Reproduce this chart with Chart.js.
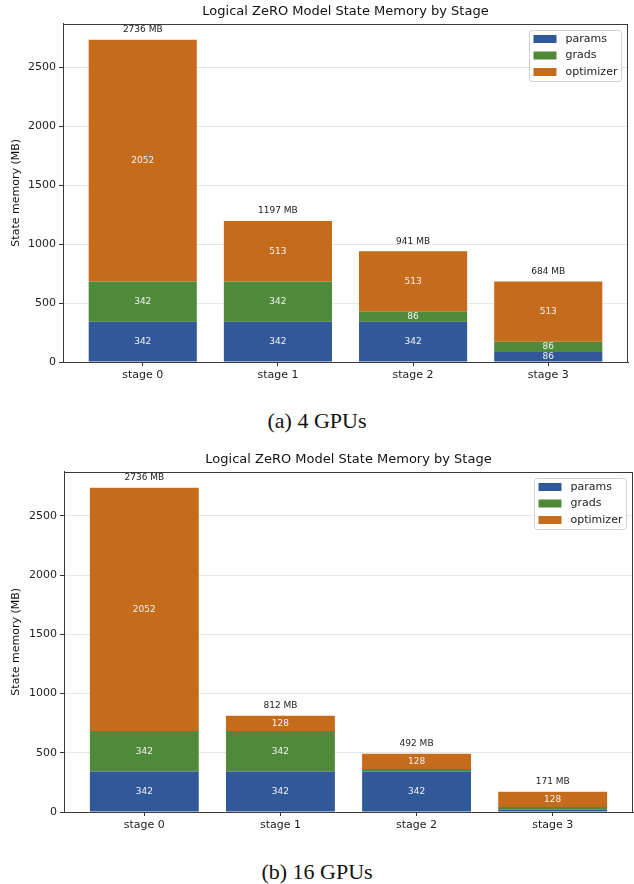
<!DOCTYPE html>
<html>
<head>
<meta charset="utf-8">
<script src="https://cdn.jsdelivr.net/npm/chart.js@4.4.0/dist/chart.umd.min.js"></script>
<style>
  body { margin: 0; background: #fff; width: 634px; height: 884px; position: relative; overflow: hidden; }
  .panel { position: absolute; left: 0; width: 634px; height: 396px; }
  .cap { position: absolute; left: 0; width: 634px; text-align: center;
         font-family: "Liberation Serif", "Times New Roman", serif; font-size: 22px; color: #111; line-height: 26px; }
</style>
</head>
<body>
<div class="panel" style="top:0"><canvas id="c4" width="634" height="396"></canvas></div>
<div class="cap" style="top:408px">(a) 4 GPUs</div>
<div class="panel" style="top:448px"><canvas id="c16" width="634" height="396"></canvas></div>
<div class="cap" style="top:859px">(b) 16 GPUs</div>
<script>
// Per-stage memory (MB) for each state component
const stages = ['stage 0', 'stage 1', 'stage 2', 'stage 3'];
const seriesNames = ['params', 'grads', 'optimizer'];

// 4 GPUs
const params4 = [342, 342, 342, 85.5];
const grads4 = [342, 342, 85.5, 85.5];
const optimizer4 = [2052, 513, 513, 513];

// 16 GPUs
const params16 = [342, 342, 342, 21.375];
const grads16 = [342, 342, 21.375, 21.375];
const optimizer16 = [2052, 128.25, 128.25, 128.25];

const yTicks = [0, 500, 1000, 1500, 2000, 2500];

const seriesColors = ['#31599a', '#4f8a3b', '#c56b1c'];
const FONT = '"DejaVu Sans", Verdana, sans-serif';

// Segment values and stacked totals drawn on top of the bars
const barLabels = {
  id: 'barLabels',
  afterDatasetsDraw(chart) {
    const ctx = chart.ctx;
    ctx.save();
    ctx.textAlign = 'center';
    ctx.textBaseline = 'middle';
    ctx.font = '9px ' + FONT;
    const n = chart.data.datasets.length;
    chart.data.datasets.forEach((ds, di) => {
      const meta = chart.getDatasetMeta(di);
      meta.data.forEach((bar, i) => {
        const v = ds.data[i].y;
        if (v >= 50) {
          ctx.fillStyle = '#f2f2f2';
          ctx.fillText(String(Math.round(v)), bar.x, (bar.y + bar.base) / 2);
        }
        if (di === n - 1) {
          const total = chart.data.datasets.reduce((s, d) => s + d.data[i].y, 0);
          ctx.fillStyle = '#222';
          ctx.fillText(Math.round(total) + ' MB', bar.x, bar.y - 10);
        }
      });
    });
    ctx.restore();
  }
};

// Axes frame on all four sides plus a boxed legend in the upper right
const frameAndLegend = {
  id: 'frameAndLegend',
  afterDraw(chart) {
    const ctx = chart.ctx;
    const a = chart.chartArea;
    ctx.save();
    ctx.strokeStyle = '#3a3a3a';
    ctx.lineWidth = 1;
    ctx.strokeRect(Math.round(a.left) + 0.5, Math.round(a.top) + 0.5,
                   Math.round(a.right - a.left) - 1, Math.round(a.bottom - a.top));

    const bw = 92, bh = 51;
    const bx = Math.round(a.right) - 7 - bw + 0.5;
    const by = Math.round(a.top) + 6 + 0.5;
    ctx.fillStyle = 'rgba(255,255,255,0.85)';
    ctx.strokeStyle = '#d0d0d0';
    ctx.beginPath();
    ctx.roundRect(bx, by, bw, bh, 3);
    ctx.fill();
    ctx.stroke();
    ctx.font = '11px ' + FONT;
    ctx.textBaseline = 'middle';
    ctx.textAlign = 'left';
    chart.data.datasets.forEach((ds, i) => {
      const cy = by + 8.5 + i * 16.5;
      ctx.fillStyle = ds.backgroundColor;
      ctx.fillRect(bx + 4, cy - 4, 23, 8);
      ctx.fillStyle = '#222';
      ctx.fillText(ds.label, bx + 36, cy);
    });
    ctx.restore();
  }
};

function makeChart(id, series, layoutOpts) {
  const n = stages.length;
  const totals = stages.map((_, i) => series.reduce((s, arr) => s + arr[i], 0));
  const yMax = Math.max(...totals) * 1.05;
  const span = (n - 1) + 0.8;
  const xMin = -0.4 - 0.05 * span;
  const xMax = (n - 1) + 0.4 + 0.05 * span;

  return new Chart(document.getElementById(id), {
    type: 'bar',
    data: {
      datasets: series.map((arr, si) => ({
        label: seriesNames[si],
        data: arr.map((v, i) => ({ x: i, y: v })),
        backgroundColor: seriesColors[si],
        borderWidth: 0,
        categoryPercentage: 1.0,
        barPercentage: 0.8
      }))
    },
    options: {
      responsive: false,
      animation: false,
      layout: { padding: { left: 0, right: layoutOpts.padRight, top: 0, bottom: 0 } },
      plugins: {
        legend: { display: false },
        tooltip: { enabled: false },
        title: {
          display: true,
          fullSize: false,
          text: 'Logical ZeRO Model State Memory by Stage',
          color: '#111',
          font: { family: FONT, size: 13, weight: 'normal' },
          padding: { top: 4, bottom: 4 }
        }
      },
      scales: {
        x: {
          type: 'linear',
          stacked: true,
          offset: false,
          min: xMin,
          max: xMax,
          afterBuildTicks: (scale) => { scale.ticks = stages.map((_, i) => ({ value: i })); },
          afterFit: (scale) => { scale.height = layoutOpts.xAxisHeight; },
          grid: { offset: false, drawOnChartArea: false, tickColor: '#333', tickLength: 4 },
          border: { color: '#3a3a3a' },
          ticks: {
            color: '#222',
            font: { family: FONT, size: 11 },
            padding: 3,
            maxRotation: 0,
            callback: (v) => stages[v]
          }
        },
        y: {
          stacked: true,
          min: 0,
          max: yMax,
          afterBuildTicks: (scale) => { scale.ticks = yTicks.map(v => ({ value: v })); },
          afterFit: (scale) => { scale.width = layoutOpts.yAxisWidth; },
          grid: { color: '#e8e8e8', tickColor: '#333', tickLength: 4, lineWidth: 1 },
          border: { color: '#3a3a3a' },
          ticks: { color: '#222', font: { family: FONT, size: 11 }, padding: 3, callback: (v) => String(v) },
          title: {
            display: true,
            text: 'State memory (MB)',
            color: '#111',
            font: { family: FONT, size: 11 },
            padding: { top: 10, bottom: 0 }
          }
        }
      }
    },
    plugins: [barLabels, frameAndLegend]
  });
}

makeChart('c4', [params4, grads4, optimizer4], { xAxisHeight: 34, padRight: 6, yAxisWidth: 63 });
makeChart('c16', [params16, grads16, optimizer16], { xAxisHeight: 32, padRight: 1, yAxisWidth: 64 });
</script>
</body>
</html>
